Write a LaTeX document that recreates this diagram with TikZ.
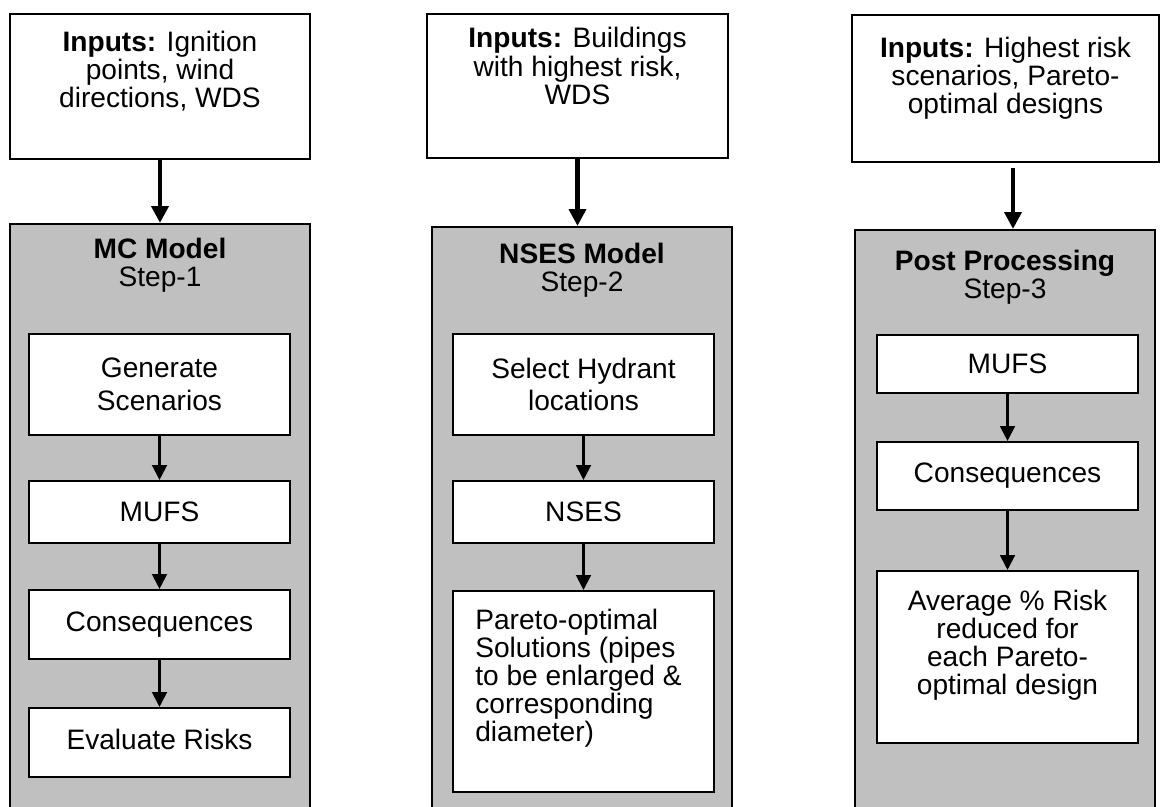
\documentclass[tikz,border=0pt]{standalone}
\usepackage{fontspec}
\setmainfont{Liberation Sans}
\usepackage{tikz}
\usetikzlibrary{arrows.meta, positioning, calc}
\definecolor{panelgray}{RGB}{192,192,192}
\tikzset{
  every node/.style={inner sep=0pt, font=\fontsize{16}{16}\selectfont}, % text of all boxes
  inbox/.style={draw, line width=1.3pt, fill=white, minimum width=6cm, minimum height=2.9cm},
  panel/.style={draw, line width=1.3pt, fill=panelgray, minimum width=6cm},
  stepbox/.style={draw, line width=1.2pt, fill=white, minimum width=5.22cm, align=center},
  widestep/.style={stepbox, font=\fontsize{16}{18.7}\selectfont}, % two lines, looser
  txt/.style={align=center},
  bigarrow/.style={-{Triangle[width=9.5pt,length=9.5pt]}, line width=2.3pt},
  smallarrow/.style={-{Triangle[width=8.5pt,length=8.5pt]}, line width=1.2pt},
}

\begin{document}
\begin{tikzpicture}[x=0.02cm, y=-0.02cm]
  \useasboundingbox (0,0) rectangle (1163,807);

  % Step 1
  \node[inbox] at (160,86.5) (in1){};
  \node[txt] at (160,71) (in1txt){\textbf{Inputs:} Ignition\\points, wind\\directions, WDS};
  \node[panel, minimum height=11.82cm] at (160,519.5) (mc){};
  \node[txt] at (160,265) (mctxt){\textbf{MC Model}\\Step-1};
  \node[widestep, minimum height=2.02cm] at (159.5,384.5) (gen){Generate\\Scenarios};
  \node[stepbox, minimum height=1.24cm] at (159.5,512) (mufsa){MUFS};
  \node[stepbox, minimum height=1.38cm] at (159.5,624.5) (consa){Consequences};
  \node[stepbox, minimum height=1.38cm] at (159.5,742.5) (eval){};
  \node at (159.5,739) (evaltxt){Evaluate Risks};

  \draw[bigarrow] (in1) -- (mc);
  \draw[smallarrow] (gen) -- (mufsa);
  \draw[smallarrow] (mufsa) -- (consa);
  \draw[smallarrow] (consa) -- (eval);

  % Step 2
  \node[inbox, minimum width=6.02cm, minimum height=2.88cm] at (577.5,86) (in2){};
  \node[txt] at (577.5,66) (in2txt){\textbf{Inputs:} Buildings\\with highest risk,\\WDS};
  \node[panel, minimum height=11.76cm] at (582,521) (nses){};
  \node[txt] at (582,270) (nsestxt){\textbf{NSES Model}\\Step-2};
  \node[widestep, minimum height=2.02cm] at (583.5,384.5) (sel){Select Hydrant\\locations};
  \node[stepbox, minimum height=1.24cm] at (583.5,512) (nsesbox){NSES};
  \node[stepbox, minimum height=4.02cm] at (583.5,691.5) (pareto){};
  \node[align=left, anchor=west] at (475,678) (paretotxt){Pareto-optimal\\Solutions (pipes\\to be enlarged \&\\corresponding\\diameter)};

  \draw[bigarrow] (in2.south) -- (in2.south |- nses.north);
  \draw[smallarrow] (sel) -- (nsesbox);
  \draw[smallarrow] (nsesbox) -- (pareto);

  % Step 3
  \node[inbox, minimum width=6.14cm, minimum height=2.94cm] at (1005.5,88.5) (in3){};
  \node[txt] at (1005.5,78) (in3txt){\textbf{Inputs:} Highest risk\\scenarios, Pareto-\\optimal designs};
  \node[panel, minimum height=11.7cm] at (1005,522.5) (post){};
  \node[txt] at (1005,277.5) (posttxt){\textbf{Post Processing}\\Step-3};
  \node[stepbox, minimum height=1.16cm] at (1007.5,364) (mufsb){MUFS};
  \node[stepbox, minimum height=1.36cm] at (1007.5,476) (consb){Consequences};
  \node[stepbox, minimum height=3.44cm] at (1007.5,657) (avg){};
  \node[txt] at (1007.5,645) (avgtxt){Average \% Risk\\reduced for\\each Pareto-\\optimal design};

  \draw[bigarrow, shorten <=0.1cm] ([xshift=0.15cm]in3.south) -- ([xshift=0.15cm]in3.south |- post.north);
  \draw[smallarrow] (mufsb) -- (consb);
  \draw[smallarrow] (consb) -- (avg);
\end{tikzpicture}
\end{document}
